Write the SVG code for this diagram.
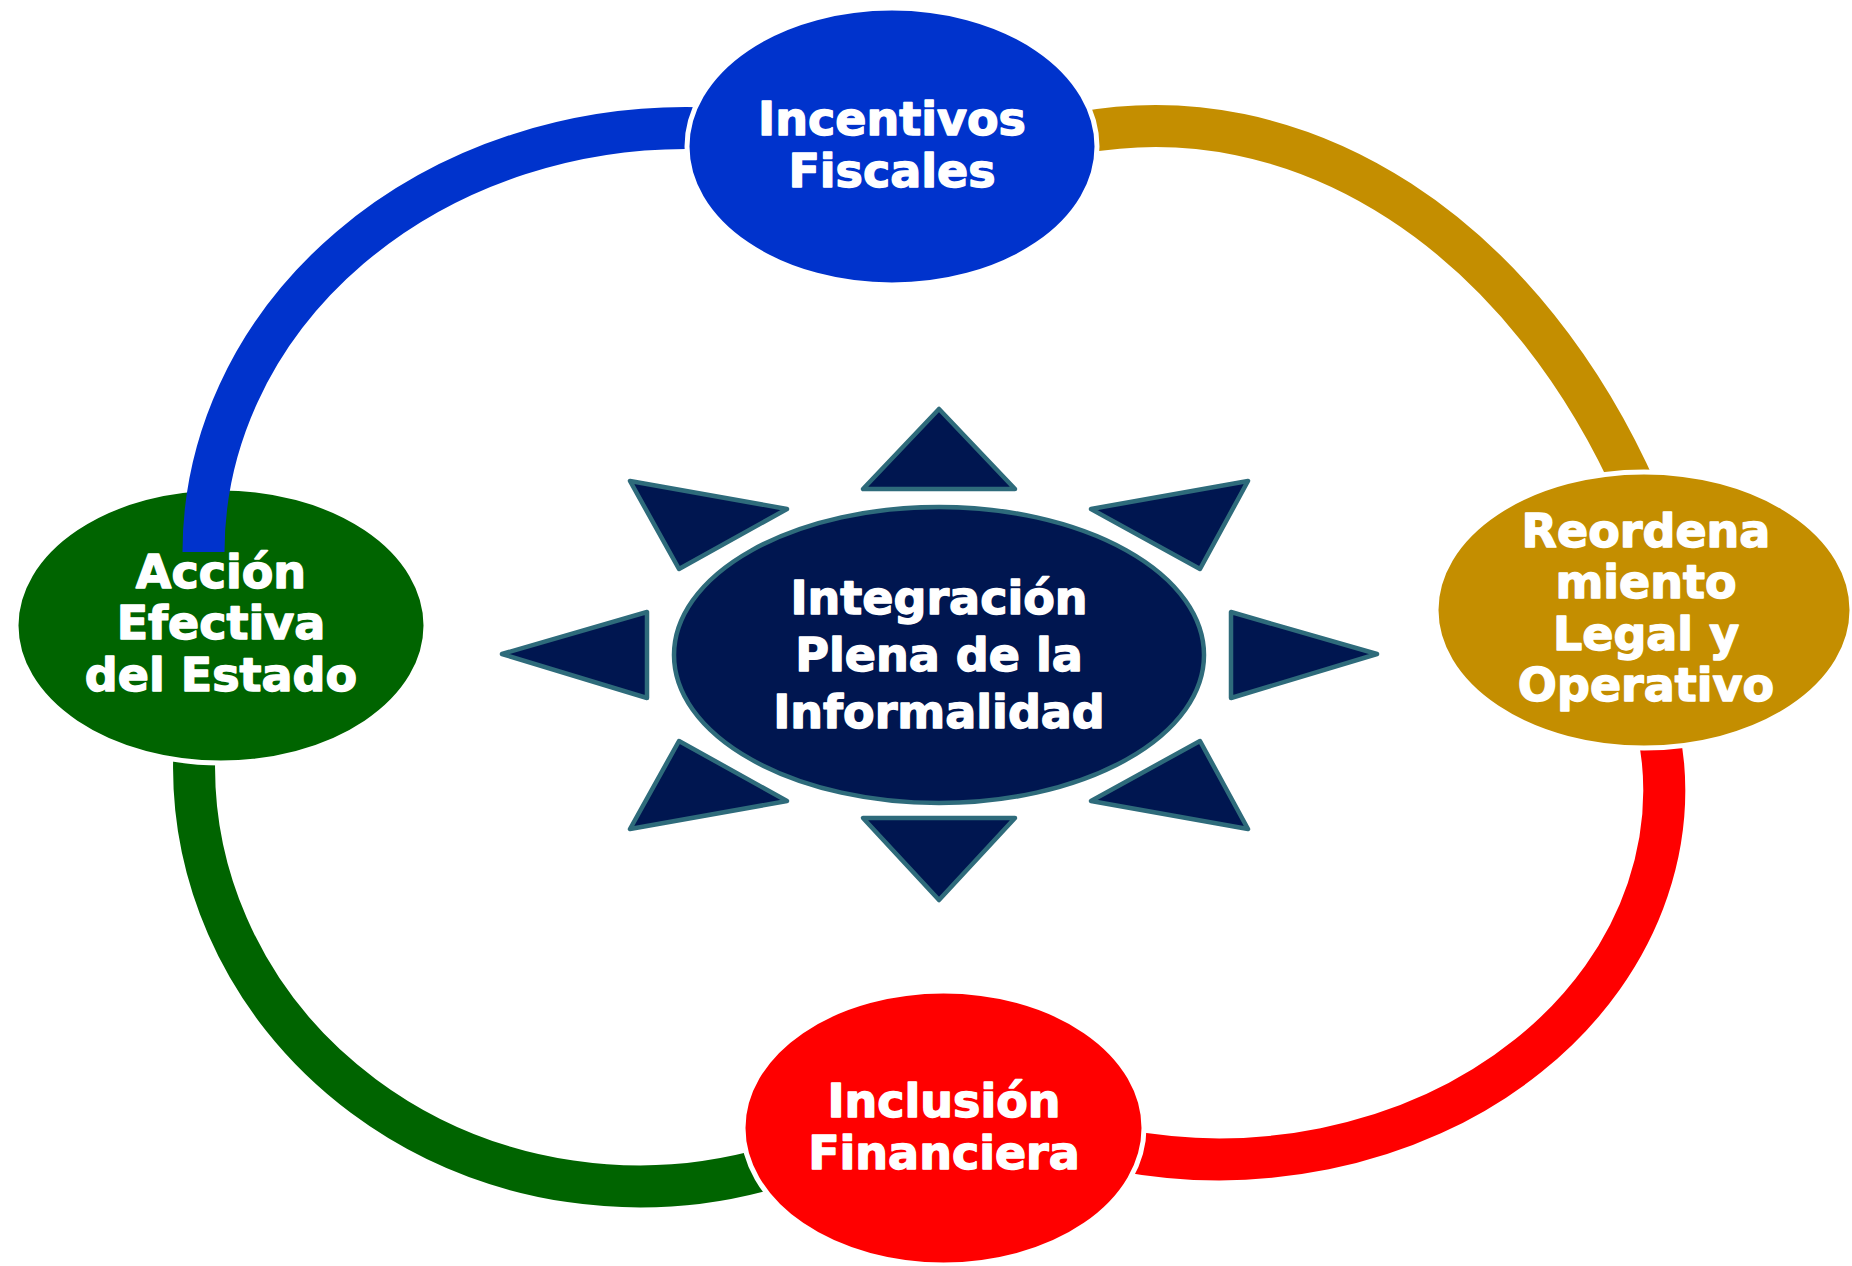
<svg xmlns="http://www.w3.org/2000/svg" width="1852" height="1266" viewBox="0 0 1852 1266">
<style>
.band{fill:none;stroke-width:42;stroke-linecap:butt}
.node{stroke:#ffffff;stroke-width:5}
.lbl{font-family:"DejaVu Sans","Liberation Sans",sans-serif;font-weight:bold;font-size:46px;fill:#ffffff;stroke:#ffffff;stroke-width:1.4;stroke-linejoin:round;text-anchor:middle}
.ray{fill:#001650;stroke:#2E6B7B;stroke-width:4.5;stroke-linejoin:round}
</style>
<rect width="1852" height="1266" fill="#ffffff"/>
<g id="connectors">
<path id="arc-gold" class="band" stroke="#C48E00" d="M 1080 133 A 560 750 0 0 1 1638 495"/>
<path id="arc-red" class="band" stroke="#FF0000" d="M 1656 720 A 445 369 0 0 1 1120 1150"/>
<path id="arc-green" class="band" stroke="#006400" d="M 195 740 A 445.5 419.5 0 0 0 770 1168"/>
</g>
<g id="node-reordenamiento">
<ellipse class="node" cx="1644" cy="610" rx="208" ry="138" fill="#C48E00"/>
<text class="lbl" x="1646" y="547">Reordena</text>
<text class="lbl" x="1646" y="598">miento</text>
<text class="lbl" x="1646" y="650">Legal y</text>
<text class="lbl" x="1646" y="701">Operativo</text>
</g>
<g id="node-inclusion">
<ellipse class="node" cx="943.5" cy="1128" rx="200.5" ry="137" fill="#FF0000"/>
<text class="lbl" x="944" y="1117">Inclusión</text>
<text class="lbl" x="944" y="1169">Financiera</text>
</g>
<g id="node-accion">
<ellipse class="node" cx="221" cy="625.5" rx="205" ry="137.5" fill="#006400"/>
</g>
<g id="connectors-top">
<path id="arc-blue" class="band" stroke="#0033CC" d="M 700 128.2 A 482.5 424 0 0 0 203.5 552"/>
</g>
<g id="node-accion-label">
<text class="lbl" x="221" y="588">Acción</text>
<text class="lbl" x="221" y="639">Efectiva</text>
<text class="lbl" x="221" y="691">del Estado</text>
</g>
<g id="node-incentivos">
<ellipse class="node" cx="892" cy="146.5" rx="205" ry="138.5" fill="#0033CC"/>
<text class="lbl" x="892" y="135">Incentivos</text>
<text class="lbl" x="892" y="187">Fiscales</text>
</g>
<g id="node-centro">
<polygon class="ray" points="939,409 863,489 1015,489"/>
<polygon class="ray" points="939,900 863,818 1015,818"/>
<polygon class="ray" points="502,654 647,612 647,698"/>
<polygon class="ray" points="1377,654 1231,612 1231,698"/>
<polygon class="ray" points="630,481 787,509 679,569"/>
<polygon class="ray" points="1248,481 1091,509 1200,569"/>
<polygon class="ray" points="630,829 787,801 679,741"/>
<polygon class="ray" points="1248,829 1091,801 1200,741"/>
<ellipse cx="939" cy="655" rx="265" ry="148" fill="#001650" stroke="#2E6B7B" stroke-width="4.5"/>
<text class="lbl" x="939" y="614">Integración</text>
<text class="lbl" x="939" y="671">Plena de la</text>
<text class="lbl" x="939" y="728">Informalidad</text>
</g>
</svg>
